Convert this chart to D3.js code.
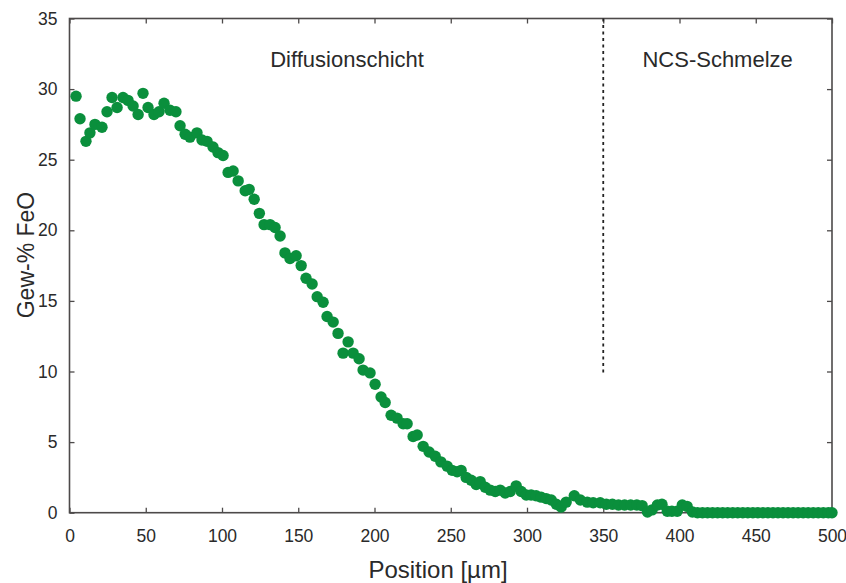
<!DOCTYPE html>
<html><head><meta charset="utf-8">
<script src="https://cdn.jsdelivr.net/npm/d3@7"></script>
<style>body{margin:0;background:#fff}</style>
</head><body>
<svg id="c" width="846" height="583"></svg>
<script>
// Measured profile: position (µm) and FeO content (wt-%)
const positions = [4.3, 6.9, 10.8, 13.4, 16.7, 21.3, 24.6, 27.9, 31.2, 35.1,
  38.4, 41.7, 45.0, 48.2, 51.5, 55.4, 58.7, 62.0, 65.9, 69.8,
  72.5, 75.8, 79.0, 83.6, 86.9, 90.2, 94.1, 97.4, 100.7, 104.0,
  107.3, 110.6, 115.2, 117.8, 121.1, 124.5, 127.6, 131.5, 134.8, 138.1,
  141.3, 144.6, 148.6, 151.9, 155.1, 159.1, 162.4, 166.3, 168.9, 172.9,
  176.1, 179.4, 182.7, 186.0, 189.9, 192.5, 197.1, 200.4, 204.3, 207.0,
  210.9, 214.8, 218.8, 221.4, 225.3, 228.0, 231.9, 235.8, 239.8, 243.5,
  247.6, 250.9, 254.2, 256.8, 260.1, 263.4, 266.7, 269.3, 272.6, 275.9,
  279.2, 282.4, 285.7, 289.0, 292.9, 296.2, 299.5, 302.7, 306.0, 309.3,
  312.6, 315.9, 319.2, 322.4, 325.7, 331.0, 335.0, 339.5, 343.4, 348.0,
  352.0, 356.0, 360.0, 364.0, 368.0, 372.0, 375.5, 379.0, 382.0, 385.5,
  388.5, 392.0, 395.0, 398.5, 401.8, 405.0, 408.5, 411.8, 415.1, 418.4,
  421.7, 425.0, 428.3, 431.6, 434.9, 438.2, 441.5, 444.8, 448.1, 451.4,
  454.7, 458.0, 461.3, 464.6, 467.9, 471.2, 474.5, 477.8, 481.1, 484.4,
  487.7, 491.0, 494.3, 497.6, 500.0];
const feo = [29.5, 27.9, 26.3, 26.9, 27.5, 27.3, 28.4, 29.4, 28.7, 29.4,
  29.2, 28.8, 28.2, 29.7, 28.7, 28.2, 28.4, 29.0, 28.5, 28.4,
  27.4, 26.8, 26.6, 26.9, 26.4, 26.3, 25.9, 25.5, 25.3, 24.1,
  24.2, 23.5, 22.8, 22.9, 22.2, 21.2, 20.4, 20.4, 20.2, 19.6,
  18.4, 18.0, 18.2, 17.5, 16.6, 16.2, 15.3, 14.9, 13.9, 13.5,
  12.7, 11.3, 12.1, 11.3, 10.9, 10.1, 9.9, 9.1, 8.2, 7.8,
  6.9, 6.7, 6.3, 6.3, 5.4, 5.5, 4.7, 4.3, 4.0, 3.6,
  3.3, 3.0, 2.9, 3.0, 2.5, 2.3, 2.0, 2.2, 1.8, 1.6,
  1.5, 1.6, 1.4, 1.5, 1.9, 1.5, 1.25, 1.25, 1.2, 1.1,
  1.0, 0.9, 0.6, 0.4, 0.75, 1.2, 0.9, 0.75, 0.7, 0.7,
  0.6, 0.6, 0.55, 0.55, 0.55, 0.55, 0.5, 0.05, 0.2, 0.55,
  0.6, 0.1, 0.1, 0.1, 0.55, 0.45, 0.05, 0.0, 0.0, 0.0,
  0.0, 0.0, 0.0, 0.0, 0.0, 0.0, 0.0, 0.0, 0.0, 0.0,
  0.0, 0.0, 0.0, 0.0, 0.0, 0.0, 0.0, 0.0, 0.0, 0.0,
  0.0, 0.0, 0.0, 0.0, 0.0];
const xTicks = [0, 50, 100, 150, 200, 250, 300, 350, 400, 450, 500];
const yTicks = [0, 5, 10, 15, 20, 25, 30, 35];
const boundaryPos = 350;
const boundaryRange = [9.75, 35];
const regionNames = ["Diffusionschicht", "NCS-Schmelze"];
const regionX = [182, 425];
const regionY = 32.1;
const xTitle = "Position [µm]";
const yTitle = "Gew-% FeO";

const W = 846, H = 583;
const m = {left: 69.5, right: 14, top: 18.5, bottom: 70.3};
const svg = d3.select("#c");
const x = d3.scaleLinear().domain([0, 500]).range([m.left, W - m.right]);
const y = d3.scaleLinear().domain([0, 35]).range([H - m.bottom, m.top]);
const axisColor = "#4d4a4a";
const textColor = "#2a2a2a";
const font = "'Liberation Sans', Arial, sans-serif";

function styleAxis(g) {
  g.select(".domain").remove();
  g.selectAll(".tick line").attr("stroke", axisColor).attr("stroke-width", 1.3);
  g.selectAll(".tick text").attr("fill", textColor).style("font-family", font).style("font-size", "17.5px");
}
svg.append("g").attr("transform", `translate(0,${y(0)})`)
  .call(d3.axisBottom(x).tickValues(xTicks).tickSize(-5).tickPadding(17).tickFormat(d3.format("d")))
  .call(styleAxis);
svg.append("g").attr("transform", `translate(0,${y(35)})`)
  .call(d3.axisTop(x).tickValues(xTicks).tickSize(-5).tickFormat(""))
  .call(styleAxis);
svg.append("g").attr("transform", `translate(${x(0)},0)`)
  .call(d3.axisLeft(y).tickValues(yTicks).tickSize(-5).tickPadding(12).tickFormat(d3.format("d")))
  .call(styleAxis);
svg.append("g").attr("transform", `translate(${x(500)},0)`)
  .call(d3.axisRight(y).tickValues(yTicks).tickSize(-5).tickFormat(""))
  .call(styleAxis);

svg.append("rect").attr("x", x(0)).attr("y", y(35))
  .attr("width", x(500) - x(0)).attr("height", y(0) - y(35))
  .attr("fill", "none").attr("stroke", axisColor).attr("stroke-width", 1.6);

svg.append("line").attr("x1", x(boundaryPos)).attr("x2", x(boundaryPos))
  .attr("y1", y(boundaryRange[1])).attr("y2", y(boundaryRange[0]))
  .attr("stroke", "#222").attr("stroke-width", 1.8).attr("stroke-dasharray", "3,3.5");

svg.append("g").selectAll("circle").data(positions.map((p, i) => [p, feo[i]]))
  .join("circle").attr("cx", d => x(d[0])).attr("cy", d => y(d[1])).attr("r", 5.7)
  .attr("fill", "#0a8f3c");

svg.append("g").selectAll("text").data(regionNames).join("text")
  .attr("x", (d, i) => x(regionX[i])).attr("y", y(regionY)).attr("dy", "0.35em")
  .attr("text-anchor", "middle").attr("fill", textColor)
  .style("font-family", font).style("font-size", "22px").text(d => d);

svg.append("text").attr("x", 438).attr("y", 578).attr("text-anchor", "middle")
  .attr("fill", textColor).style("font-family", font).style("font-size", "24px").text(xTitle);
svg.append("text").attr("transform", `translate(34,255) rotate(-90)`).attr("text-anchor", "middle")
  .attr("fill", textColor).style("font-family", font).style("font-size", "23px").text(yTitle);
</script>
</body></html>
